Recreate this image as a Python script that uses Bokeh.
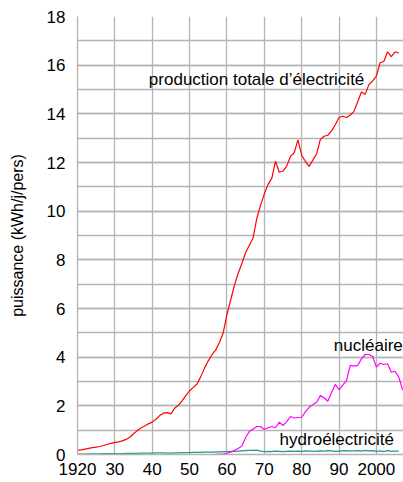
from bokeh.plotting import figure
from bokeh.models import FixedTicker, Range1d, Label
from bokeh.embed import file_html
from bokeh.resources import INLINE

years_total = list(range(1920, 2007))
total = [0.17, 0.19, 0.22, 0.25, 0.28, 0.30, 0.33, 0.37, 0.42, 0.46,
         0.50, 0.52, 0.56, 0.62, 0.71, 0.85, 0.98, 1.10, 1.17, 1.26,
         1.33, 1.45, 1.60, 1.70, 1.72, 1.67, 1.90, 2.02, 2.20, 2.42,
         2.62, 2.76, 2.90, 3.20, 3.55, 3.85, 4.10, 4.30, 4.60, 5.00,
         5.75, 6.35, 6.95, 7.45, 7.85, 8.30, 8.60, 8.90, 9.70, 10.25,
         10.70, 11.10, 11.35, 12.05, 11.60, 11.65, 11.85, 12.25, 12.40, 12.93,
         12.30, 12.05, 11.84, 12.10, 12.35, 12.95, 13.08, 13.12, 13.30, 13.55,
         13.85, 13.90, 13.85, 13.95, 14.10, 14.50, 14.90, 14.80, 15.20, 15.35,
         15.55, 16.10, 16.15, 16.55, 16.35, 16.55, 16.50]

years_nuc = list(range(1956, 2008))
nuclear = [0.00, 0.01, 0.02, 0.03, 0.05, 0.10, 0.16, 0.25, 0.35, 0.70,
           0.95, 1.05, 1.15, 1.15, 1.03, 1.10, 1.15, 1.10, 1.33, 1.19,
           1.35, 1.56, 1.50, 1.52, 1.53, 1.75, 1.94, 2.05, 2.15, 2.42,
           2.33, 2.19, 2.55, 2.88, 2.66, 2.85, 3.04, 3.66, 3.63, 3.66,
           3.93, 4.11, 4.11, 4.03, 3.59, 3.75, 3.70, 3.73, 3.38, 3.42,
           3.18, 2.66]

years_hydro = list(range(1920, 2007))
hydro = [0.02, 0.02, 0.02, 0.03, 0.03, 0.03, 0.03, 0.04, 0.04, 0.04,
         0.04, 0.04, 0.04, 0.05, 0.05, 0.05, 0.05, 0.06, 0.06, 0.06,
         0.06, 0.07, 0.07, 0.07, 0.06, 0.06, 0.07, 0.07, 0.08, 0.08,
         0.08, 0.09, 0.09, 0.09, 0.10, 0.10, 0.10, 0.11, 0.11, 0.12,
         0.12, 0.13, 0.13, 0.14, 0.15, 0.16, 0.17, 0.17, 0.18, 0.14,
         0.12, 0.13, 0.12, 0.14, 0.13, 0.12, 0.13, 0.14, 0.13, 0.14,
         0.13, 0.15, 0.14, 0.13, 0.14, 0.15, 0.14, 0.16, 0.15, 0.13,
         0.14, 0.15, 0.16, 0.14, 0.15, 0.16, 0.14, 0.17, 0.15, 0.16,
         0.13, 0.15, 0.12, 0.16, 0.13, 0.14, 0.14]

x_ticks = [1920, 1930, 1940, 1950, 1960, 1970, 1980, 1990, 2000]
x_tick_labels = ["1920", "30", "40", "50", "60", "70", "80", "90", "2000"]
y_ticks = [0, 2, 4, 6, 8, 10, 12, 14, 16, 18]
y_minor = list(range(0, 19))

labels = ["production totale d\u2019\u00e9lectricit\u00e9", "nucl\u00e9aire", "hydro\u00e9lectricit\u00e9"]
label_x = [1939.1, 1988.6, 1974.1]
label_y = [15.43, 4.46, 0.62]

FONT = "Liberation Sans"
GRID = "#b4b4b4"

p = figure(width=403, height=482, output_backend="svg", toolbar_location=None,
           x_range=Range1d(1920, 2007.26), y_range=Range1d(0, 18),
           min_border_left=77, min_border_right=0, min_border_top=16, min_border_bottom=28)
p.outline_line_color = None
p.background_fill_color = "white"

p.xaxis.ticker = FixedTicker(ticks=x_ticks)
p.xaxis.major_label_overrides = {t: l for t, l in zip(x_ticks, x_tick_labels)}
p.yaxis.ticker = FixedTicker(ticks=y_ticks, minor_ticks=y_minor)
p.xgrid.ticker = FixedTicker(ticks=x_ticks)
p.ygrid.ticker = FixedTicker(ticks=y_ticks, minor_ticks=y_minor)

for g in (p.xgrid, p.ygrid):
    g.grid_line_color = GRID
    g.grid_line_width = 1.3
p.ygrid.minor_grid_line_color = GRID
p.ygrid.minor_grid_line_width = 1.3

for ax in (p.xaxis, p.yaxis):
    ax.axis_line_color = GRID
    ax.axis_line_width = 1.3
    ax.major_tick_line_color = None
    ax.minor_tick_line_color = None
    ax.major_tick_out = 0
    ax.major_tick_in = 0
    ax.minor_tick_out = 0
    ax.minor_tick_in = 0
    ax.major_label_text_font = FONT
    ax.major_label_text_font_size = "17px"
    ax.major_label_text_color = "black"

p.xaxis.major_label_standoff = 8
p.yaxis.major_label_standoff = 12
p.yaxis.axis_label = "puissance (kWh/j/pers)"
p.yaxis.axis_label_text_font = FONT
p.yaxis.axis_label_text_font_size = "16px"
p.yaxis.axis_label_text_font_style = "normal"
p.yaxis.axis_label_text_color = "black"
p.yaxis.axis_label_standoff = 18

p.line(years_hydro, hydro, line_color="#1f9a8c", line_width=1.2)
p.line(years_nuc, nuclear, line_color="#ff00ff", line_width=1.2)
p.line(years_total, total, line_color="#ff0000", line_width=1.2)

for t, x, y in zip(labels, label_x, label_y):
    p.add_layout(Label(x=x, y=y, text=t, text_font=FONT, text_font_size="17px",
                       text_color="black", text_baseline="alphabetic"))

open("out.html", "w").write(file_html(p, INLINE))
